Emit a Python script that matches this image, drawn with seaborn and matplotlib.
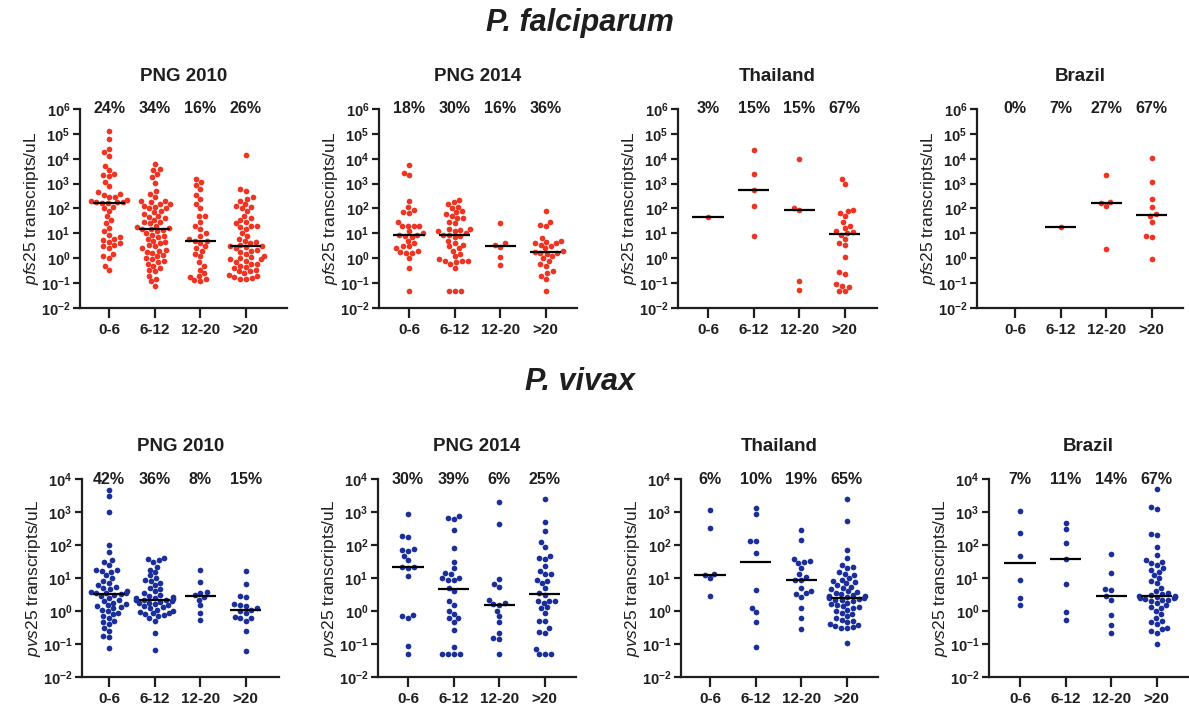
import warnings
import numpy as np
import pandas as pd
import matplotlib
matplotlib.use("Agg")
import matplotlib.pyplot as plt
from matplotlib.ticker import FixedLocator, FuncFormatter
import seaborn as sns

warnings.filterwarnings("ignore")

# ---- data (transcripts/uL) ----
age_groups = ["0-6", "6-12", "12-20", ">20"]
sites = ["PNG 2010", "PNG 2014", "Thailand", "Brazil"]

# P. falciparum, one list per age group
pf_png2010 = [
    [1.3e5, 6e4, 2.5e4, 1.8e4, 1.3e4, 5e3, 3.5e3, 2.5e3, 2.2e3, 2e3, 1.2e3, 800, 450, 400,
     350, 300, 280, 220, 200, 190, 180, 180, 170, 160, 120, 100, 80, 50, 35, 25, 16, 12,
     8.5, 7, 6, 5.4, 4.5, 4, 3.4, 3, 2.5, 1.5, 1.2, 1, 0.5, 0.33],
    [6e3, 4e3, 3.5e3, 2.5e3, 1.8e3, 1.1e3, 500, 400, 300, 200, 200, 180, 150, 150, 130, 120,
     100, 100, 80, 70, 60, 50, 45, 40, 35, 30, 30, 25, 20, 18, 16, 15, 15, 14, 12, 10,
     9, 8, 7, 6, 5, 4.5, 4, 3.5, 3, 2.5, 2.2, 2, 1.8, 1.6, 1.4, 1.2, 1, 0.9, 0.8, 0.7,
     0.6, 0.5, 0.4, 0.35, 0.3, 0.2, 0.15, 0.12, 0.08],
    [1.6e3, 1.2e3, 900, 600, 350, 250, 150, 100, 50, 50, 30, 20, 15, 10, 8, 6, 5, 5, 4, 3,
     2.5, 2, 1.5, 1.2, 0.7, 0.5, 0.35, 0.25, 0.2, 0.18, 0.15, 0.13, 0.12],
    [1.4e4, 600, 500, 300, 250, 200, 150, 130, 120, 100, 80, 50, 40, 35, 30, 25, 20, 20, 18,
     15, 10, 8, 6, 5, 4.5, 4, 3.5, 3.2, 3, 2.8, 2.5, 2.2, 2, 1.8, 1.5, 1.2, 1.1, 1, 0.9,
     0.9, 0.8, 0.7, 0.6, 0.6, 0.5, 0.45, 0.4, 0.35, 0.3, 0.3, 0.25, 0.22, 0.2, 0.18, 0.16,
     0.15, 0.15],
]
pf_png2014 = [
    [5.5e3, 2.8e3, 2.2e3, 200, 110, 90, 70, 65, 30, 20, 20, 20, 20, 12, 10, 9, 9, 8, 7, 5,
     4, 3, 3, 2.5, 2, 1.8, 1.6, 1.6, 1.0, 0.4, 0.05],
    [230, 180, 150, 120, 100, 80, 70, 60, 50, 40, 40, 30, 25, 15, 15, 14, 12, 12, 10, 9,
     8.5, 8, 7, 5, 4, 3.5, 3, 2.5, 2, 1.5, 1.2, 0.9, 0.8, 0.8, 0.8, 0.7, 0.6, 0.42, 0.05,
     0.05, 0.05],
    [25, 4, 3.5, 2.8, 1.1, 0.55],
    [80, 30, 22, 20, 6.5, 5, 4.5, 4, 4, 3.5, 3, 2.5, 2, 1.8, 1.7, 1.6, 1.5, 1.2, 1, 0.8,
     0.6, 0.5, 0.3, 0.25, 0.2, 0.15, 0.05],
]
pf_thailand = [
    [47],
    [2.3e4, 2.4e3, 560, 130, 7.5],
    [9.5e3, 100, 85, 0.12, 0.053],
    [1.6e3, 1e3, 85, 80, 65, 50, 28, 20, 17, 12, 11, 10, 9, 6, 4, 3.5, 1.1, 0.28, 0.23,
     0.09, 0.08, 0.07, 0.05, 0.05],
]
pf_brazil = [
    [],
    [18],
    [2200, 190, 160, 130, 2.3],
    [1.1e4, 1.2e3, 250, 120, 60, 50, 30, 8, 7, 0.95],
]

# P. vivax
pv_png2010 = [
    [4.5e3, 3e3, 1e3, 100, 60, 35, 30, 25, 18, 17, 16, 15, 12, 10, 8, 7, 6, 5.5, 5, 4.5,
     4, 3.8, 3.6, 3.5, 3.4, 3.2, 3, 2.8, 2.5, 2.2, 2, 1.8, 1.6, 1.5, 1.4, 1.3, 1.2, 1.1,
     1, 0.9, 0.8, 0.7, 0.6, 0.5, 0.45, 0.4, 0.3, 0.25, 0.18, 0.16, 0.075],
    [40, 38, 35, 30, 22, 18, 15, 12, 10, 9, 8, 7, 6, 5, 4.5, 4, 3.5, 3, 2.8, 2.6, 2.5,
     2.4, 2.3, 2.2, 2.2, 2.1, 2, 1.9, 1.8, 1.7, 1.6, 1.5, 1.4, 1.3, 1.2, 1.1, 1, 0.95,
     0.9, 0.85, 0.8, 0.75, 0.7, 0.6, 0.5, 0.22, 0.065],
    [17, 7.5, 3.7, 3.5, 3, 2.6, 2.2, 1.5, 0.9, 0.55],
    [16, 6.8, 2.8, 2.6, 1.6, 1.5, 1.4, 1.2, 1.1, 1, 0.9, 0.65, 0.6, 0.6, 0.5, 0.25, 0.06],
]
pv_png2014 = [
    [870, 190, 170, 75, 70, 65, 47, 35, 22, 21, 20, 11.5, 0.75, 0.7, 0.62, 0.09, 0.05],
    [750, 650, 600, 280, 80, 30, 20, 14, 13, 10, 10, 9, 9, 5, 4, 2, 1.5, 1.0, 0.8, 0.6,
     0.6, 0.45, 0.27, 0.08, 0.05, 0.05, 0.05, 0.05],
    [2000, 420, 9.5, 6.5, 5.5, 2.1, 1.8, 1.6, 1.5, 1.0, 0.7, 0.45, 0.22, 0.15, 0.14, 0.05],
    [2400, 500, 260, 120, 90, 48, 40, 38, 23, 16, 13, 13, 9, 8, 7, 5, 3.5, 3, 2, 2, 2,
     1.8, 1.3, 1.2, 0.9, 0.5, 0.5, 0.3, 0.23, 0.22, 0.07, 0.05, 0.05, 0.05],
]
pv_thailand = [
    [1150, 330, 13, 12.5, 10, 2.8],
    [1300, 870, 135, 130, 56, 4.3, 1.25, 0.93, 0.46, 0.08],
    [280, 140, 38, 33, 30, 28, 20, 13, 11, 9, 9, 5, 4, 3.5, 3.2, 2.7, 1.2, 0.6, 0.28],
    [2400, 550, 70, 40, 25, 22, 20, 15, 13, 12, 10, 9, 8, 7.5, 7, 6, 5.5, 5, 4.5, 4,
     3.8, 3.5, 3.2, 3, 2.9, 2.8, 2.7, 2.6, 2.5, 2.4, 2.3, 2.2, 2.1, 2, 1.8, 1.6, 1.5,
     1.4, 1.3, 1.2, 1.1, 1, 0.9, 0.8, 0.7, 0.6, 0.55, 0.5, 0.45, 0.4, 0.38, 0.35, 0.32,
     0.3, 0.3, 0.11],
]
pv_brazil = [
    [1100, 230, 48, 9, 2.5, 1.5],
    [460, 300, 115, 37, 6.5, 0.95, 0.55],
    [55, 14, 4.5, 4.2, 2.8, 2.2, 0.75, 0.37, 0.22],
    [5000, 1400, 1200, 220, 200, 90, 50, 35, 30, 28, 25, 20, 17, 15, 12, 10, 8, 7, 5, 4,
     3.5, 3.2, 3, 2.9, 2.8, 2.7, 2.6, 2.5, 2.4, 2.3, 2.2, 2.1, 2, 1.8, 1.5, 1.3, 1.2, 1,
     0.8, 0.6, 0.5, 0.45, 0.4, 0.3, 0.28, 0.25, 0.22, 0.1],
]

# percentages shown above each age group
pf_pct = [["24%", "34%", "16%", "26%"], ["18%", "30%", "16%", "36%"],
          ["3%", "15%", "15%", "67%"], ["0%", "7%", "27%", "67%"]]
pv_pct = [["42%", "36%", "8%", "15%"], ["30%", "39%", "6%", "25%"],
          ["6%", "10%", "19%", "65%"], ["7%", "11%", "14%", "67%"]]

# ---- style ----
plt.rcParams["font.family"] = ["Liberation Sans", "DejaVu Sans"]
plt.rcParams["mathtext.fontset"] = "custom"
plt.rcParams["mathtext.rm"] = "Liberation Sans"
plt.rcParams["mathtext.it"] = "Liberation Sans:italic"
plt.rcParams["mathtext.bf"] = "Liberation Sans:bold"
plt.rcParams["axes.unicode_minus"] = False

TXT = "#1e1e1e"
RED = "#ee3524"
BLUE = "#1b2f9a"

W, H = 1189, 706
fig = plt.figure(figsize=(W / 100, H / 100), dpi=100)
fig.patch.set_facecolor("white")

# pixel layout: (spine x, first tick x, end x)
row_layout = {
    "pf": dict(top=109, bottom=308, cols=[(80, 109, 287), (379, 409, 577), (678, 708, 877), (977, 1015, 1183)]),
    "pv": dict(top=479, bottom=677, cols=[(82, 109, 279), (378, 408, 576), (681, 710, 878), (989, 1020, 1188)]),
}
SP = 45.6  # px between categories


def sup_fmt(v, pos):
    e = int(round(np.log10(v)))
    return r"$\mathbf{10^{%d}}$" % e


def draw_panel(ax, groups, pct, color, ymin, ymax, gene, title, first, spine, end):
    rows = []
    for g, vals in zip(age_groups, groups):
        for v in vals:
            rows.append({"age": g, "val": v})
    df = pd.DataFrame(rows, columns=["age", "val"])
    ax.set_yscale("log")
    sns.swarmplot(data=df, x="age", y="val", order=age_groups, color=color,
                  size=4.1, linewidth=0, ax=ax, zorder=2)
    for i, vals in enumerate(groups):
        if len(vals) > 0:
            ax.hlines(np.median(vals), i - 0.34, i + 0.34, color="black", lw=1.6, zorder=5)
    ax.set_yscale("log")
    ax.set_ylim(ymin, ymax)
    ax.set_xlim(-(first - spine) / SP, 3 + (end - first - 3 * SP) / SP)
    decades = [10.0 ** e for e in range(int(np.log10(ymin)), int(np.log10(ymax)) + 1)]
    ax.yaxis.set_major_locator(FixedLocator(decades))
    ax.yaxis.set_minor_locator(FixedLocator([]))
    ax.yaxis.set_major_formatter(FuncFormatter(sup_fmt))
    for i, p in enumerate(pct):
        ax.text(i, ymax, p, ha="center", va="center", fontsize=11.5,
                fontweight="bold", color=TXT, clip_on=False)
    sns.despine(ax=ax)
    for s in ["left", "bottom"]:
        ax.spines[s].set_linewidth(1.6)
        ax.spines[s].set_color(TXT)
    ax.tick_params(axis="y", length=5, width=1.6, labelsize=10.5, colors=TXT, pad=2)
    ax.tick_params(axis="x", length=7, width=1.6, labelsize=11, colors=TXT, pad=4)
    for lab in ax.get_xticklabels():
        lab.set_fontweight("bold")
    ax.set_xlabel("")
    ax.set_ylabel(r"$\it{%s}$25 transcripts/uL" % gene, fontsize=12.5, color=TXT, labelpad=0)
    ax.set_title(title, fontsize=13.5, fontweight="bold", color=TXT, pad=20)
    ax.set_facecolor("none")


rows_def = [
    ("pf", [pf_png2010, pf_png2014, pf_thailand, pf_brazil], pf_pct, RED, 1e-2, 1e6, "pfs"),
    ("pv", [pv_png2010, pv_png2014, pv_thailand, pv_brazil], pv_pct, BLUE, 1e-2, 1e4, "pvs"),
]

for key, panels, pcts, color, ymin, ymax, gene in rows_def:
    lay = row_layout[key]
    for k, (groups, pct) in enumerate(zip(panels, pcts)):
        spine, first, end = lay["cols"][k]
        ax = fig.add_axes([spine / W, 1 - lay["bottom"] / H, (end - spine) / W,
                           (lay["bottom"] - lay["top"]) / H])
        draw_panel(ax, groups, pct, color, ymin, ymax, gene, sites[k], first, spine, end)

fig.text(580 / W, 1 - 23 / H, "P. falciparum", ha="center", va="center", fontsize=22,
         fontweight="bold", fontstyle="italic", color=TXT)
fig.text(580 / W, 1 - 382 / H, "P. vivax", ha="center", va="center", fontsize=22,
         fontweight="bold", fontstyle="italic", color=TXT)

fig.savefig("out.png", dpi=100, facecolor="white")
